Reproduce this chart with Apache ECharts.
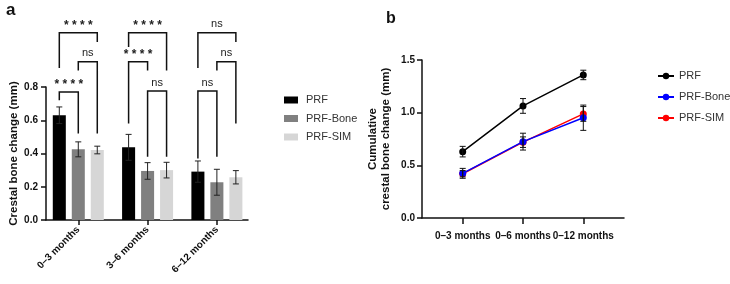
<!DOCTYPE html>
<html>
<head>
<meta charset="utf-8">
<script src="https://cdn.jsdelivr.net/npm/echarts@6.0.0/dist/echarts.min.js"></script>
<style>
  html, body { margin: 0; padding: 0; background: #fff; }
  #chart { width: 730px; height: 284px; }
</style>
</head>
<body>
<div id="chart"></div>
<script>
// panel a: crestal bone change per interval
const groupsA = ['0–3 months', '3–6 months', '6–12 months']
const prfA = [0.63, 0.437, 0.291]
const prfErrA = [0.05, 0.078, 0.064]
const boneA = [0.425, 0.295, 0.227]
const boneErrA = [0.045, 0.05, 0.078]
const simA = [0.421, 0.30, 0.257]
const simErrA = [0.023, 0.047, 0.04]
const ticksA = [0, 0.2, 0.4, 0.6, 0.8]

// significance brackets: [group, fromBar, toBar, level, leftEnd, rightEnd]
const brackets = [
  [0, 0, 2, 1.127, 0.914, 1.07],
  [0, 1, 2, 0.952, 0.90, 0.52],
  [0, 0, 1, 0.77, 0.72, 0.52],
  [1, 0, 2, 1.127, 1.04, 0.90],
  [1, 0, 1, 0.952, 0.58, 0.90],
  [1, 1, 2, 0.776, 0.38, 0.38],
  [2, 0, 2, 1.127, 0.914, 1.07],
  [2, 1, 2, 0.952, 0.90, 0.58],
  [2, 0, 1, 0.776, 0.37, 0.38]
]
const bracketLabels = ['****', 'ns', '****', '****', '****', 'ns', 'ns', 'ns', 'ns']

// panel b: cumulative change
const stagesB = ['0–3 months', '0–6 months', '0–12 months']
const prfB = [0.63, 1.064, 1.358]
const prfErrB = [0.05, 0.07, 0.045]
const boneB = [0.424, 0.725, 0.952]
const boneErrB = [0.047, 0.08, 0.12]
const simB = [0.42, 0.72, 0.988]
const simErrB = [0.03, 0.05, 0.07]

const FONT = 'Liberation Sans, Arial, sans-serif'
const BAR_W = 0.188
const OFFSETS = [-0.274, 0, 0.274]

const chart = echarts.init(document.getElementById('chart'), null, { renderer: 'canvas' })

function errLines (api, x, v, e, capPx, color) {
  const hi = api.coord([x, v + e])
  const lo = api.coord([x, v - e])
  const st = { stroke: color, lineWidth: 1 }
  return [
    { type: 'line', shape: { x1: hi[0], y1: hi[1], x2: lo[0], y2: lo[1] }, style: st },
    { type: 'line', shape: { x1: hi[0] - capPx, y1: hi[1], x2: hi[0] + capPx, y2: hi[1] }, style: st },
    { type: 'line', shape: { x1: lo[0] - capPx, y1: lo[1], x2: lo[0] + capPx, y2: lo[1] }, style: st }
  ]
}

function barRenderer (offset) {
  return function (params, api) {
    const x = api.value(0) + offset
    const v = api.value(1)
    const e = api.value(2)
    const w = api.size([BAR_W, 0])[0]
    const top = api.coord([x, v])
    const base = api.coord([x, 0])
    const children = [{
      type: 'rect',
      shape: { x: top[0] - w / 2, y: top[1], width: w, height: base[1] - top[1] },
      style: { fill: api.visual('color') }
    }]
    return { type: 'group', children: children.concat(errLines(api, x, v, e, 3, '#222')) }
  }
}

function barSeries (name, color, vals, errs, offset) {
  return {
    name: name,
    type: 'custom',
    xAxisIndex: 0,
    yAxisIndex: 0,
    itemStyle: { color: color },
    renderItem: barRenderer(offset),
    encode: { x: 0, y: 1 },
    data: vals.map((v, i) => [i, v, errs[i]]),
    z: 2
  }
}

function bracketRenderer (params, api) {
  const idx = params.dataIndex
  const g = api.value(0)
  const xl = g + OFFSETS[api.value(1)]
  const xr = g + OFFSETS[api.value(2)]
  const level = api.value(3)
  const p1 = api.coord([xl, api.value(4)])
  const p2 = api.coord([xl, level])
  const p3 = api.coord([xr, level])
  const p4 = api.coord([xr, api.value(5)])
  const label = bracketLabels[idx]
  const stars = label !== 'ns'
  return {
    type: 'group',
    children: [
      { type: 'polyline', shape: { points: [p1, p2, p3, p4] }, style: { stroke: '#111', lineWidth: 1.5, fill: null } },
      {
        type: 'text',
        x: (p2[0] + p3[0]) / 2,
        y: p2[1] - (stars ? 1 : 3),
        style: {
          text: stars ? '* * * *' : label,
          font: (stars ? 'bold 12px ' : '11px ') + FONT,
          fill: '#222',
          align: 'center',
          verticalAlign: 'bottom'
        }
      }
    ]
  }
}

function errSeries (vals, errs, z) {
  return {
    type: 'custom',
    xAxisIndex: 1,
    yAxisIndex: 1,
    renderItem: function (params, api) {
      return { type: 'group', children: errLines(api, api.value(0), api.value(1), api.value(2), 3, '#111') }
    },
    encode: { x: 0, y: 1 },
    data: vals.map((v, i) => [i, v, errs[i]]),
    z: z,
    silent: true
  }
}

function lineSeries (name, color, vals, z) {
  return {
    name: 'b:' + name,
    type: 'line',
    xAxisIndex: 1,
    yAxisIndex: 1,
    data: vals.map((v, i) => [i, v]),
    color: color,
    symbol: 'circle',
    symbolSize: 7,
    lineStyle: { width: 1.5, color: color },
    itemStyle: { color: color },
    z: z
  }
}

const labelStyle = { color: '#111', fontFamily: FONT, fontWeight: 'bold', fontSize: 10 }

chart.setOption({
  animation: false,
  textStyle: { fontFamily: FONT },
  grid: [
    { left: 46, top: 87, width: 202, height: 133 },
    { left: 422, top: 60, width: 202, height: 158 }
  ],
  xAxis: [
    {
      gridIndex: 0,
      type: 'value',
      min: -0.466,
      max: 2.449,
      splitLine: { show: false },
      axisLine: { onZero: false, lineStyle: { color: '#111', width: 1.5 } },
      axisTick: { customValues: [0, 1, 2], length: 5, lineStyle: { color: '#111', width: 1.5 } },
      axisLabel: Object.assign({
        customValues: [0, 1, 2],
        rotate: 45,
        margin: 8,
        formatter: v => groupsA[Math.round(v)]
      }, labelStyle)
    },
    {
      gridIndex: 1,
      type: 'value',
      min: -0.675,
      max: 2.675,
      splitLine: { show: false },
      axisLine: { onZero: false, lineStyle: { color: '#111', width: 1.5 } },
      axisTick: { customValues: [0, 1, 2], length: 6, lineStyle: { color: '#111', width: 1.5 } },
      axisLabel: Object.assign({
        customValues: [0, 1, 2],
        margin: 13,
        hideOverlap: false,
        formatter: v => stagesB[Math.round(v)]
      }, labelStyle)
    }
  ],
  yAxis: [
    {
      gridIndex: 0,
      type: 'value',
      min: ticksA[0],
      max: ticksA[ticksA.length - 1],
      interval: 0.2,
      name: 'Crestal bone change (mm)',
      nameLocation: 'middle',
      nameGap: 23,
      nameTextStyle: { color: '#111', fontFamily: FONT, fontWeight: 'bold', fontSize: 11.5 },
      splitLine: { show: false },
      axisLine: { show: true, onZero: false, lineStyle: { color: '#111', width: 1.5 } },
      axisTick: { show: true, length: 5, lineStyle: { color: '#111', width: 1.5 } },
      axisLabel: Object.assign({ margin: 8, formatter: v => v.toFixed(1) }, labelStyle)
    },
    {
      gridIndex: 1,
      type: 'value',
      min: 0,
      max: 1.5,
      interval: 0.5,
      name: 'Cumulative\ncrestal bone change (mm)',
      nameLocation: 'middle',
      nameGap: 30,
      nameTextStyle: { color: '#111', fontFamily: FONT, fontWeight: 'bold', fontSize: 11.5, lineHeight: 13 },
      splitLine: { show: false },
      axisLine: { show: true, onZero: false, lineStyle: { color: '#111', width: 1.5 } },
      axisTick: { show: true, length: 5, lineStyle: { color: '#111', width: 1.5 } },
      axisLabel: Object.assign({ margin: 7, formatter: v => v.toFixed(1) }, labelStyle)
    }
  ],
  legend: [
    {
      orient: 'vertical',
      left: 279,
      top: 89,
      itemWidth: 14,
      itemHeight: 7,
      itemGap: 6.5,
      icon: 'rect',
      selectedMode: false,
      data: ['PRF', 'PRF-Bone', 'PRF-SIM'],
      textStyle: { color: '#333', fontSize: 11, fontFamily: FONT, lineHeight: 12, padding: [0, 0, 0, 3] }
    },
    {
      orient: 'vertical',
      left: 652,
      top: 65,
      itemWidth: 16,
      itemHeight: 8,
      itemGap: 9,
      selectedMode: false,
      data: ['b:PRF', 'b:PRF-Bone', 'b:PRF-SIM'],
      formatter: name => name.replace('b:', ''),
      textStyle: { color: '#333', fontSize: 11, fontFamily: FONT, lineHeight: 12 }
    }
  ],
  graphic: [
    { type: 'text', left: 6, top: 2, style: { text: 'a', font: 'bold 17px ' + FONT, fill: '#111' } },
    { type: 'text', left: 386, top: 11, style: { text: 'b', font: 'bold 16px ' + FONT, fill: '#111' } }
  ],
  series: [
    barSeries('PRF', '#000000', prfA, prfErrA, OFFSETS[0]),
    barSeries('PRF-Bone', '#808080', boneA, boneErrA, OFFSETS[1]),
    barSeries('PRF-SIM', '#d6d6d6', simA, simErrA, OFFSETS[2]),
    {
      type: 'custom',
      xAxisIndex: 0,
      yAxisIndex: 0,
      clip: false,
      silent: true,
      renderItem: bracketRenderer,
      encode: { x: 0, y: 3 },
      data: brackets,
      z: 3
    },
    lineSeries('PRF', '#000000', prfB, 4),
    lineSeries('PRF-SIM', '#ff0000', simB, 3),
    lineSeries('PRF-Bone', '#0000ff', boneB, 5),
    errSeries(prfB, prfErrB, 6),
    errSeries(simB, simErrB, 6),
    errSeries(boneB, boneErrB, 6)
  ]
})
</script>
</body>
</html>
